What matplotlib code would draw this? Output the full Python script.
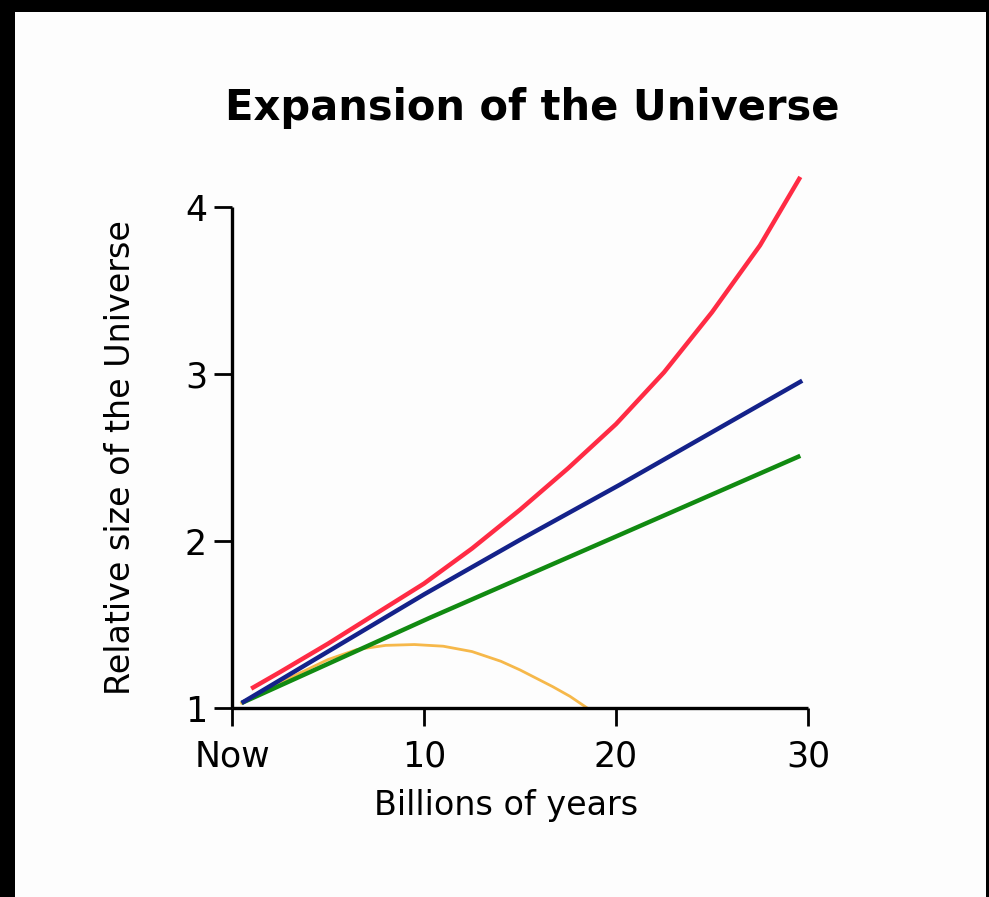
import matplotlib
matplotlib.use('Agg')
import matplotlib.pyplot as plt
from matplotlib.patches import Rectangle

# values (billions of years, relative size)
red_t = [1.0, 2.5, 5, 7.5, 10, 12.5, 15, 17.5, 20, 22.5, 25, 27.5, 29.6]
red_y = [1.116, 1.215, 1.385, 1.565, 1.745, 1.955, 2.187, 2.435, 2.70, 3.01, 3.37, 3.77, 4.18]
blue_t = [0.5, 10, 15, 20.2, 29.7]
blue_y = [1.03, 1.68, 2.007, 2.337, 2.96]
green_t = [0.5, 10.3, 20.2, 29.6]
green_y = [1.03, 1.54, 2.037, 2.51]
orange_t = [0.5, 3, 5, 6.5, 8, 9.5, 11, 12.5, 14, 15, 16.7, 17.6, 18.5]
orange_y = [1.03, 1.18, 1.29, 1.35, 1.375, 1.38, 1.37, 1.338, 1.28, 1.228, 1.128, 1.07, 1.0]

x_ticks = [0, 10, 20, 30]
x_labels = ['Now', '10', '20', '30']
y_ticks = [1, 2, 3, 4]

plt.rcParams['font.family'] = 'DejaVu Sans'

fig = plt.figure(figsize=(9.89, 8.97), dpi=100, facecolor='black')
# white card inside the black frame
fig.patches.append(Rectangle((15 / 989, 0), (986 - 15) / 989, (897 - 12) / 897,
                             transform=fig.transFigure, facecolor='#fdfdfd',
                             edgecolor='none', zorder=-5))

ax = fig.add_axes([232 / 989, (897 - 708) / 897, 576 / 989, 501 / 897])
ax.set_facecolor('none')
ax.set_zorder(2)

ax.plot(orange_t, orange_y, color='#f6b84a', lw=2.0, clip_on=False)
ax.plot(green_t, green_y, color='#118a11', lw=3.2, solid_capstyle='butt', clip_on=False)
ax.plot(blue_t, blue_y, color='#14228a', lw=3.2, solid_capstyle='butt', clip_on=False)
ax.plot(red_t, red_y, color='#ff2b44', lw=3.2, solid_capstyle='butt', clip_on=False)

ax.set_xlim(0, 30)
ax.set_ylim(1, 4)
ax.set_xticks(x_ticks)
ax.set_xticklabels(x_labels)
ax.set_yticks(y_ticks)

for s in ['top', 'right']:
    ax.spines[s].set_visible(False)
for s in ['left', 'bottom']:
    ax.spines[s].set_linewidth(2.4)
    ax.spines[s].set_capstyle('butt')

ax.tick_params(axis='both', direction='out', length=13, width=2.0,
               labelsize=25, color='black')
ax.tick_params(axis='x', pad=10)
ax.tick_params(axis='y', pad=5)

ax.set_xlabel('Billions of years', fontsize=24, va='center')
ax.xaxis.set_label_coords((506 - 232) / 576, (708 - 805) / 501)
ax.set_ylabel('Relative size of the Universe', fontsize=24, va='center')
ax.yaxis.set_label_coords((120 - 232) / 576, 0.5)

fig.text(532 / 989, 1 - 108 / 897, 'Expansion of the Universe',
         fontsize=30, fontweight='bold', ha='center', va='center', zorder=3)

fig.savefig('out.png', dpi=100, facecolor=fig.get_facecolor())
